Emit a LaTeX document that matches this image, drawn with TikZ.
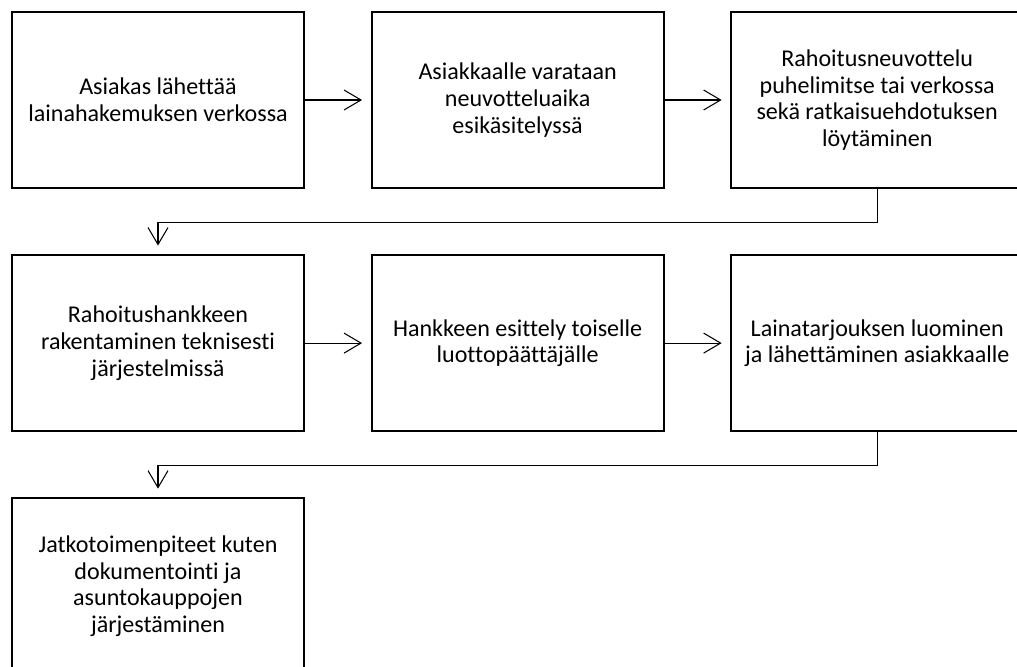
\documentclass[tikz,border=0pt]{standalone}
\usepackage{fontspec}
\setmainfont{Carlito}[Ligatures=NoCommon]
\usetikzlibrary{positioning,arrows.meta}

\begin{document}
\begin{tikzpicture}[
    stepbox/.style={draw, line width=1.2pt, fill=white, minimum width=5.84cm,
                    minimum height=3.52cm, align=center,
                    font=\fontsize{13.7}{15.2}\selectfont},
    flow/.style={line width=0.6pt, -{Straight Barb[length=0.34cm,width=0.4cm]},
                 shorten >=0.17cm},
    node distance=1.3cm and 1.31cm]
\def\drop{0.66} % how far the return line goes down
\useasboundingbox (0,0) rectangle (20.34,-13.34);
\clip (0,0) rectangle (20.34,-13.34);

% first row
\node[stepbox] (hakemus) at (3.16,-2.0) {Asiakas lähettää\\lainahakemuksen verkossa};
\node[stepbox, right=of hakemus] (varaus) {Asiakkaalle varataan\\neuvotteluaika\\esikäsitelyssä};
\node[stepbox, right=of varaus] (neuvottelu) {Rahoitusneuvottelu\\puhelimitse tai verkossa\\sekä ratkaisuehdotuksen\\löytäminen};

% second row
\node[stepbox, below=of hakemus] (rakennus) {Rahoitushankkeen\\rakentaminen teknisesti\\järjestelmissä};
\node[stepbox, right=of rakennus] (esittely) {Hankkeen esittely toiselle\\luottopäättäjälle};
\node[stepbox, right=of esittely] (tarjous) {Lainatarjouksen luominen\\ja lähettäminen asiakkaalle};

% third row
\node[stepbox, below=of rakennus] (jatko) {Jatkotoimenpiteet kuten\\dokumentointi ja\\asuntokauppojen\\järjestäminen};

\draw[flow] (hakemus) -- (varaus);
\draw[flow] (varaus) -- (neuvottelu);
\draw[flow] (neuvottelu.south) -- ++(0,-\drop) -| (rakennus.north);
\draw[flow] (rakennus) -- (esittely);
\draw[flow] (esittely) -- (tarjous);
\draw[flow] (tarjous.south) -- ++(0,-\drop) -| (jatko.north);
\end{tikzpicture}
\end{document}
